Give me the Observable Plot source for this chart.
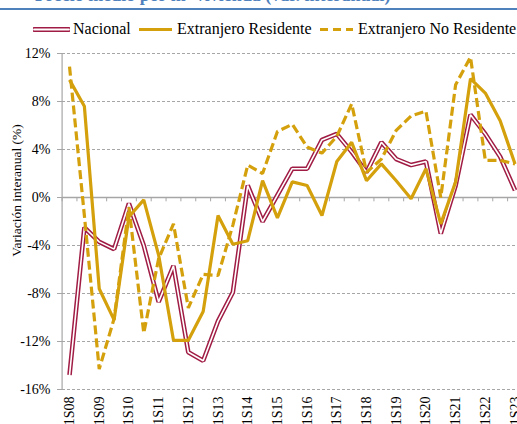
<!DOCTYPE html>
<html>
<head>
<meta charset="utf-8">
<script src="https://cdn.jsdelivr.net/npm/d3@7"></script>
<script src="https://cdn.jsdelivr.net/npm/@observablehq/plot@0.6"></script>
<style>
  html, body { margin: 0; padding: 0; width: 517px; height: 424px; overflow: hidden; background: #fff; }
  body { position: relative; font-family: "Liberation Serif", "Times New Roman", serif; }
  #title { position: absolute; left: 35px; top: -14px; font-size: 18px; line-height: 18px; font-weight: bold; color: #4F81BD; white-space: nowrap; }
  #rule { position: absolute; left: 0; top: 8px; width: 517px; height: 2px; background: #4F81BD; }
  #legend { position: absolute; left: 0; top: 21px; width: 517px; height: 16px; font-size: 16px; line-height: 16px; white-space: nowrap; }
  #legend .item { position: absolute; top: 0; display: flex; align-items: center; }
  #legend svg { display: block; }
  #chart { position: absolute; left: 0; top: 40px; }
</style>
</head>
<body>
<div id="title"></div>
<div id="rule"></div>
<div id="legend"></div>
<div id="chart"></div>
<script>
const titleText = "Precio medio por m² vivienda (var. interanual)";
const yTitle = "Variación interanual (%)";
const seriesNames = ["Nacional", "Extranjero Residente", "Extranjero No Residente"];

const labels = ["1S08","2S08","1S09","2S09","1S10","2S10","1S11","2S11","1S12","2S12",
  "1S13","2S13","1S14","2S14","1S15","2S15","1S16","2S16","1S17","2S17",
  "1S18","2S18","1S19","2S19","1S20","2S20","1S21","2S21","1S22","2S22","1S23"];

const nacional = [-14.8,-2.5,-3.7,-4.3,-0.5,-4.0,-8.7,-5.7,-12.9,-13.6,
  -10.3,-7.9,1.0,-2.0,0.2,2.4,2.4,4.8,5.3,3.8,
  2.1,4.6,3.2,2.7,3.0,-3.0,1.0,6.9,5.3,3.4,0.6];

const residente = [9.8,7.6,-7.6,-10.2,-1.6,-0.2,-4.8,-11.9,-11.9,-9.5,
  -1.5,-3.9,-3.6,1.4,-1.7,1.3,1.0,-1.5,3.0,4.6,
  1.4,2.8,1.4,-0.1,2.4,-2.2,1.3,9.9,8.7,6.4,2.8];

const noResidente = [10.9,-1.5,-14.3,-10.1,-0.8,-11.3,-5.1,-2.2,-9.2,-6.4,
  -6.5,-2.3,2.7,2.0,5.5,6.1,4.2,3.7,5.1,7.8,
  2.1,3.2,5.6,6.8,7.2,0.0,9.4,11.7,3.1,3.1,2.8];

const yTicks = [-16,-12,-8,-4,0,4,8,12];

const RED = "#A01C45";
const GOLD = "#D4A00C";
const GRID = "#A6A6A6";
const SERIF = "'Liberation Serif', 'Times New Roman', serif";

document.getElementById("title").textContent = titleText;

// Legend
const legend = document.getElementById("legend");
const legendItems = [
  {name: seriesNames[0], left: 33, w: 37, gap: 3, kind: "double"},
  {name: seriesNames[1], left: 138, w: 35, gap: 4, kind: "solid"},
  {name: seriesNames[2], left: 320, w: 33, gap: 5, kind: "dashed"}
];
for (const it of legendItems) {
  const div = document.createElement("div");
  div.className = "item";
  div.style.left = it.left + "px";
  let sw;
  if (it.kind === "double") {
    sw = `<svg width="${it.w}" height="16"><line x1="1" x2="${it.w-1}" y1="8.5" y2="8.5" stroke="${RED}" stroke-width="5" stroke-linecap="round"/><line x1="1" x2="${it.w-1}" y1="8.5" y2="8.5" stroke="#fff" stroke-width="1.8" stroke-linecap="round"/></svg>`;
  } else if (it.kind === "solid") {
    sw = `<svg width="${it.w}" height="16"><line x1="1" x2="${it.w-1}" y1="8.5" y2="8.5" stroke="${GOLD}" stroke-width="3.2"/></svg>`;
  } else {
    sw = `<svg width="${it.w}" height="16"><line x1="0" x2="${it.w}" y1="8.5" y2="8.5" stroke="${GOLD}" stroke-width="3.2" stroke-dasharray="8,5"/></svg>`;
  }
  div.innerHTML = sw + `<span style="margin-left:${it.gap}px">${it.name}</span>`;
  legend.appendChild(div);
}

const rows = labels.map((label, i) => ({i, label, nac: nacional[i], res: residente[i], nores: noResidente[i]}));
const boundaries = d3.range(-0.5, labels.length, 1);

const chart = Plot.plot({
  width: 517,
  height: 384,
  marginTop: 13,
  marginBottom: 35,
  marginLeft: 62,
  marginRight: 0,
  style: {fontFamily: SERIF, fontSize: "14px", color: "#000", background: "transparent"},
  x: {domain: [-0.5, labels.length - 0.5], range: [61.6, 61.6 + 14.85 * labels.length]},
  y: {domain: [-16, 12]},
  marks: [
    Plot.ruleY(yTicks.filter(d => d !== 0), {stroke: GRID, strokeWidth: 1, strokeDasharray: "3,2"}),
    Plot.ruleY([0], {stroke: GRID, strokeWidth: 1.6}),
    Plot.ruleX(boundaries, {x: d => d, y1: 0, y2: -0.36, stroke: GRID, strokeWidth: 1}),
    Plot.ruleX([-0.5], {y1: -16, y2: 12, stroke: GRID, strokeWidth: 1.2}),
    Plot.axisY({ticks: yTicks, tickFormat: d => d + "%", tickSize: 5, tickPadding: 7, stroke: GRID, fill: "#000", fontSize: 14, fontFamily: SERIF, label: null}),
    Plot.axisX({ticks: d3.range(0, labels.length, 2), tickFormat: i => labels[i], tickRotate: -90, tickSize: 0, tickPadding: 7, fill: "#000", fontSize: 14, fontFamily: SERIF, label: null}),
    Plot.text([yTitle], {frameAnchor: "left", textAnchor: "middle", rotate: -90, dx: -46, dy: -31, fontSize: 13.5, fontFamily: SERIF, fill: "#000"}),
    Plot.line(rows, {x: "i", y: "nac", stroke: RED, strokeWidth: 4.6, strokeLinejoin: "miter", strokeLinecap: "butt"}),
    Plot.line(rows, {x: "i", y: "nac", stroke: "#fff", strokeWidth: 1.6, strokeLinejoin: "miter", strokeLinecap: "butt"}),
    Plot.line(rows, {x: "i", y: "res", stroke: GOLD, strokeWidth: 3.2, strokeLinejoin: "miter", strokeLinecap: "butt"}),
    Plot.line(rows, {x: "i", y: "nores", stroke: GOLD, strokeWidth: 3.2, strokeDasharray: "9,4", strokeLinejoin: "miter", strokeLinecap: "butt"})
  ]
});
chart.setAttribute("font-family", SERIF);
chart.querySelectorAll("text, g").forEach(el => { el.style.fontFamily = SERIF; });
document.getElementById("chart").appendChild(chart);
</script>
</body>
</html>
